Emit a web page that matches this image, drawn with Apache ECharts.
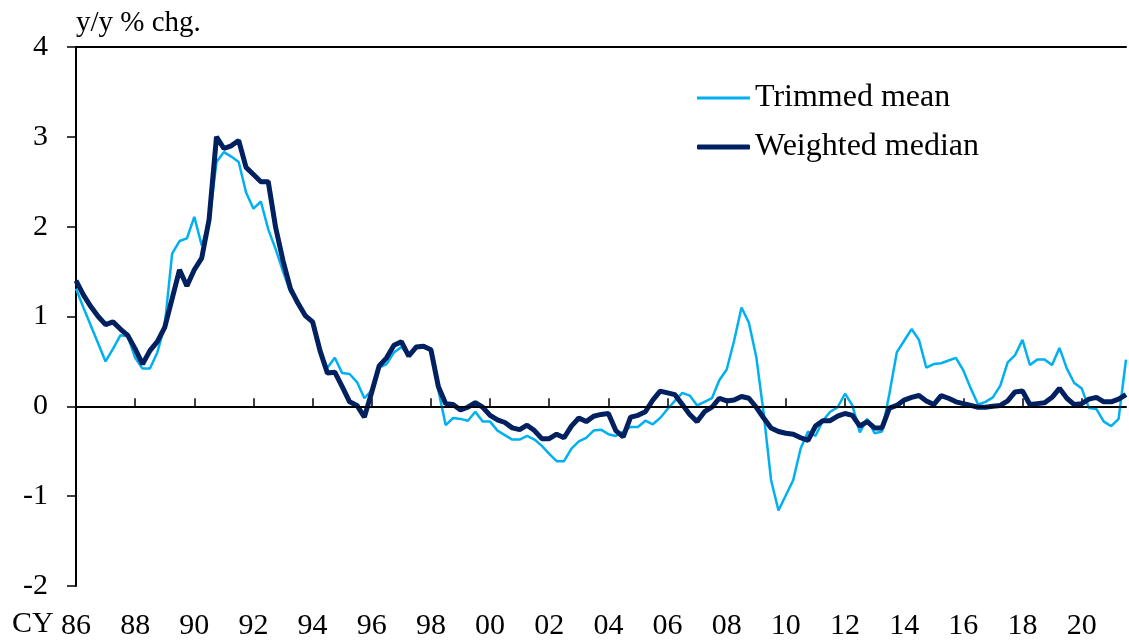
<!DOCTYPE html>
<html>
<head>
<meta charset="utf-8">
<script src="https://cdn.jsdelivr.net/npm/echarts@6/dist/echarts.min.js"></script>
<style>
  html, body { margin: 0; padding: 0; background: #fff; }
  #chart { width: 1129px; height: 641px; }
</style>
</head>
<body>
<div id="chart"></div>
<script>
// quarterly, 1986Q1 .. 2021Q3
const startYear = 1986
const quarterCount = 143
const categories = []
for (let i = 0; i < quarterCount; i++) {
  categories.push((startYear + Math.floor(i / 4)) + 'Q' + (i % 4 + 1))
}

const trimmedMean = [
  1.31, 1.10, 0.90, 0.70, 0.50, 0.64, 0.79, 0.78, 0.54, 0.42,
  0.42, 0.60, 0.90, 1.70, 1.84, 1.87, 2.11, 1.79, 2.05, 2.72,
  2.83, 2.78, 2.72, 2.38, 2.20, 2.28, 1.97, 1.75, 1.50, 1.27,
  1.18, 1.02, 0.92, 0.60, 0.43, 0.54, 0.37, 0.36, 0.27, 0.09,
  0.18, 0.43, 0.47, 0.60, 0.66, 0.57, 0.66, 0.66, 0.62, 0.18,
  -0.21, -0.13, -0.14, -0.16, -0.06, -0.17, -0.17, -0.27, -0.32, -0.37,
  -0.37, -0.33, -0.37, -0.44, -0.53, -0.61, -0.61, -0.47, -0.39, -0.35,
  -0.27, -0.26, -0.31, -0.33, -0.28, -0.23, -0.23, -0.16, -0.20, -0.13,
  -0.03, 0.06, 0.15, 0.12, 0.01, 0.05, 0.09, 0.29, 0.41, 0.73,
  1.10, 0.93, 0.55, -0.08, -0.82, -1.16, -0.99, -0.82, -0.47, -0.28,
  -0.33, -0.16, -0.06, -0.01, 0.14, 0.01, -0.29, -0.14, -0.30, -0.28,
  0.14, 0.60, 0.73, 0.86, 0.74, 0.43, 0.47, 0.48, 0.51, 0.54,
  0.40, 0.20, 0.02, 0.05, 0.10, 0.23, 0.49, 0.57, 0.74, 0.46,
  0.52, 0.52, 0.46, 0.65, 0.42, 0.26, 0.20, -0.02, -0.03, -0.17,
  -0.22, -0.14, 0.52
]

const weightedMedian = [
  1.40, 1.24, 1.11, 1.00, 0.91, 0.94, 0.86, 0.79, 0.64, 0.47,
  0.62, 0.72, 0.88, 1.20, 1.52, 1.34, 1.52, 1.65, 2.08, 3.00,
  2.87, 2.90, 2.96, 2.66, 2.58, 2.50, 2.50, 1.99, 1.62, 1.31,
  1.15, 1.01, 0.94, 0.62, 0.37, 0.38, 0.22, 0.05, 0.01, -0.12,
  0.16, 0.45, 0.54, 0.68, 0.72, 0.56, 0.66, 0.67, 0.63, 0.22,
  0.03, 0.02, -0.04, -0.01, 0.04, -0.01, -0.10, -0.15, -0.18, -0.24,
  -0.26, -0.21, -0.27, -0.36, -0.36, -0.31, -0.35, -0.22, -0.13, -0.17,
  -0.11, -0.09, -0.08, -0.27, -0.34, -0.12, -0.10, -0.06, 0.07, 0.17,
  0.15, 0.13, 0.02, -0.09, -0.17, -0.06, -0.01, 0.09, 0.06, 0.07,
  0.11, 0.09, -0.01, -0.13, -0.24, -0.28, -0.30, -0.31, -0.35, -0.38,
  -0.22, -0.16, -0.16, -0.11, -0.08, -0.10, -0.22, -0.17, -0.24, -0.24,
  -0.02, 0.01, 0.07, 0.10, 0.12, 0.06, 0.02, 0.12, 0.09, 0.05,
  0.03, 0.01, -0.01, -0.01, 0.00, 0.01, 0.06, 0.16, 0.17, 0.02,
  0.03, 0.04, 0.10, 0.20, 0.09, 0.02, 0.03, 0.08, 0.10, 0.05,
  0.05, 0.08, 0.13
]

const fontFamily = '"Liberation Serif", "Times New Roman", serif'
const tmColor = '#00B0F0'
const wmColor = '#002060'

let mychart = echarts.init(document.getElementById('chart'))
let options = {
  animation: false,
  textStyle: { fontFamily: fontFamily, color: '#000' },
  grid: { left: 76, right: 3, top: 47, bottom: 53 },
  graphic: [
    { type: 'text', left: 76, top: 9, style: { text: 'y/y % chg.', font: '29px ' + fontFamily, fill: '#000' } },
    { type: 'text', left: 12, top: 609, style: { text: 'CY', font: '30px ' + fontFamily, fill: '#000' } }
  ],
  legend: [
    {
      data: ['Trimmed mean'],
      left: 697, top: 82, padding: 0,
      icon: 'rect', itemWidth: 53, itemHeight: 3,
      textStyle: { fontSize: 32, fontFamily: fontFamily, color: '#000' }
    },
    {
      data: ['Weighted median'],
      left: 697, top: 131, padding: 0,
      icon: 'roundRect', itemWidth: 53, itemHeight: 5,
      textStyle: { fontSize: 32, fontFamily: fontFamily, color: '#000' }
    }
  ],
  xAxis: [
    {
      type: 'category',
      data: categories,
      boundaryGap: false,
      axisLine: { lineStyle: { color: '#000', width: 2 } },
      axisTick: {
        inside: true, length: 8,
        interval: (i) => i % 8 === 0,
        lineStyle: { color: '#000', width: 1.5 }
      },
      axisLabel: {
        interval: (i) => i % 8 === 0,
        formatter: (v) => v.slice(2, 4),
        fontSize: 30, fontFamily: fontFamily, color: '#000', margin: 25
      },
      splitLine: { show: false }
    },
    {
      type: 'category',
      data: categories,
      position: 'top',
      boundaryGap: false,
      axisLine: { lineStyle: { color: '#000', width: 2 } },
      axisTick: { show: false },
      axisLabel: { show: false }
    }
  ],
  yAxis: {
    type: 'value',
    min: -2, max: 4, interval: 1,
    axisLine: { show: true, lineStyle: { color: '#000', width: 2 } },
    axisTick: { show: true, length: 9, lineStyle: { color: '#000', width: 1.5 } },
    axisLabel: { fontSize: 30, fontFamily: fontFamily, color: '#000', margin: 28 },
    splitLine: { show: false }
  },
  series: [
    {
      name: 'Trimmed mean',
      type: 'line',
      data: trimmedMean,
      showSymbol: false,
      symbol: 'none',
      lineStyle: { color: tmColor, width: 2.5 },
      itemStyle: { color: tmColor },
      z: 3,
      markLine: {
        silent: true,
        symbol: 'none',
        label: { show: false },
        lineStyle: { color: '#000', type: 'solid', width: 1.5 },
        data: [{ yAxis: 0 }]
      }
    },
    {
      name: 'Weighted median',
      type: 'line',
      data: weightedMedian,
      showSymbol: false,
      symbol: 'none',
      lineStyle: { color: wmColor, width: 5 },
      itemStyle: { color: wmColor },
      z: 4
    }
  ]
}
mychart.setOption(options)
</script>
</body>
</html>
